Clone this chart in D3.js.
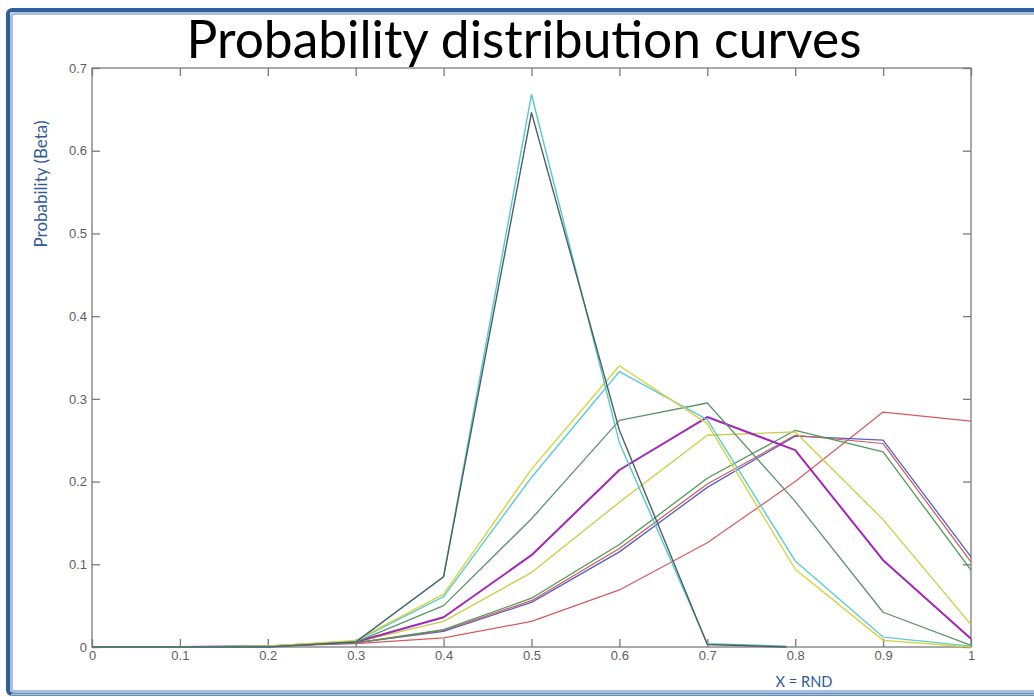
<!DOCTYPE html>
<html>
<head>
<meta charset="utf-8">
<script src="https://cdn.jsdelivr.net/npm/d3@7"></script>
<style>
  html, body { margin: 0; padding: 0; background: #ffffff; }
  svg { display: block; }
</style>
</head>
<body>
<svg id="chart" width="1034" height="697"></svg>
<script>
// Beta-distribution probability curves sampled at X = RND
const xTicks = [0, 0.1, 0.2, 0.3, 0.4, 0.5, 0.6, 0.7, 0.8, 0.9, 1];
const yTicks = [0, 0.1, 0.2, 0.3, 0.4, 0.5, 0.6, 0.7];
const xTickLabels = ["0", "0.1", "0.2", "0.3", "0.4", "0.5", "0.6", "0.7", "0.8", "0.9", "1"];
const yTickLabels = ["0", "0.1", "0.2", "0.3", "0.4", "0.5", "0.6", "0.7"];

const xGrid = [0, 0.1, 0.2, 0.3, 0.4, 0.5, 0.6, 0.7, 0.8, 0.9, 1];
const xGridNarrow = [0, 0.1, 0.2, 0.3, 0.4, 0.5, 0.6, 0.7, 0.79];

const seriesNames = ["red2", "blue", "red", "green2", "yellow2", "purple", "green", "cyan2", "yellow", "cyan", "dark"];
const seriesColors = ["#d9595c", "#5660cc", "#cf5a5a", "#4f9a58", "#cccc44", "#a326b8", "#5e9468", "#5ccbd6", "#d6d43e", "#55c8cf", "#4f5f60"];
const seriesWidths = [1.2, 1.3, 1.2, 1.3, 1.3, 2.0, 1.3, 1.4, 1.4, 1.4, 1.4];

const red2    = [0, 0, 0.001, 0.004, 0.011, 0.031, 0.069, 0.126, 0.200, 0.284, 0.273];
const blue    = [0, 0, 0.001, 0.005, 0.019, 0.054, 0.115, 0.193, 0.255, 0.250, 0.109];
const red     = [0, 0, 0.001, 0.005, 0.020, 0.056, 0.119, 0.197, 0.256, 0.246, 0.103];
const green2  = [0, 0, 0.001, 0.005, 0.021, 0.059, 0.124, 0.204, 0.262, 0.236, 0.093];
const yellow2 = [0, 0, 0.001, 0.006, 0.031, 0.090, 0.175, 0.256, 0.260, 0.154, 0.027];
const purple  = [0, 0, 0.001, 0.006, 0.036, 0.111, 0.214, 0.278, 0.238, 0.105, 0.010];
const green   = [0, 0, 0.001, 0.006, 0.050, 0.155, 0.274, 0.295, 0.176, 0.042, 0.002];
const cyan2   = [0, 0, 0.001, 0.007, 0.061, 0.205, 0.333, 0.275, 0.104, 0.012, 0.001];
const yellow  = [0, 0, 0.001, 0.008, 0.064, 0.215, 0.340, 0.270, 0.094, 0.008, 0.000];
const cyan    = [0, 0, 0.000, 0.006, 0.085, 0.668, 0.247, 0.004, 0.001];
const dark    = [0, 0, 0.000, 0.006, 0.085, 0.646, 0.262, 0.003, 0.000];

const seriesValues = [red2, blue, red, green2, yellow2, purple, green, cyan2, yellow, cyan, dark];

const svg = d3.select("#chart");
const W = 1034, H = 697;
const margin = { left: 92, right: 63, top: 68, bottom: 50 };
const x = d3.scaleLinear().domain([0, 1]).range([margin.left, W - margin.right]);
const y = d3.scaleLinear().domain([0, 0.7]).range([H - margin.bottom, margin.top]);

// fit a text element to a given width by scaling its font size
function fitWidth(sel, base, width) {
  const w = sel.node().getComputedTextLength();
  sel.attr("font-size", base * width / w);
}

// slide frame
svg.append("rect").attr("x", 0).attr("y", 0).attr("width", W).attr("height", H).attr("fill", "#ffffff");
svg.append("rect")
  .attr("x", 8).attr("y", 10).attr("width", W + 20).attr("height", 684).attr("rx", 4)
  .attr("fill", "none").attr("stroke", "#2f5f97").attr("stroke-width", 4);
svg.append("rect")
  .attr("x", 11.5).attr("y", 13.5).attr("width", W + 20).attr("height", 678).attr("rx", 3)
  .attr("fill", "none").attr("stroke", "#a9bfdb").attr("stroke-width", 3);
svg.append("line")
  .attr("x1", 11).attr("x2", W).attr("y1", 694.5).attr("y2", 694.5)
  .attr("stroke", "#a9bfdb").attr("stroke-width", 2);

// title
const title = svg.append("text")
  .attr("x", 524).attr("y", 58)
  .attr("text-anchor", "middle")
  .attr("font-family", "Lato, 'Open Sans', sans-serif")
  .attr("font-size", 48)
  .attr("fill", "#000")
  .text("Probability distribution curves");
fitWidth(title, 48, 675);

const plot = svg.append("g");

// axes box
plot.append("rect")
  .attr("x", x(0)).attr("y", y(0.7))
  .attr("width", x(1) - x(0)).attr("height", y(0) - y(0.7))
  .attr("fill", "#fff").attr("stroke", "#7a7a7a").attr("stroke-width", 1.3);

const tickLen = 8;
const axisStyle = g => {
  g.select(".domain").remove();
  g.selectAll(".tick line").attr("stroke", "#7a7a7a").attr("stroke-width", 1.3);
  g.selectAll(".tick text")
    .attr("fill", "#5e5e5e")
    .attr("font-family", "'Liberation Sans', Arial, sans-serif")
    .attr("font-size", 13);
};

plot.append("g")
  .attr("transform", `translate(0,${y(0)})`)
  .call(d3.axisBottom(x).tickValues(xTicks).tickFormat((d, i) => xTickLabels[i]).tickSizeInner(-tickLen).tickSizeOuter(0).tickPadding(4))
  .call(axisStyle);
plot.append("g")
  .attr("transform", `translate(0,${y(0.7)})`)
  .call(d3.axisTop(x).tickValues(xTicks).tickFormat("").tickSizeInner(-tickLen).tickSizeOuter(0))
  .call(axisStyle);
plot.append("g")
  .attr("transform", `translate(${x(0)},0)`)
  .call(d3.axisLeft(y).tickValues(yTicks).tickFormat((d, i) => yTickLabels[i]).tickSizeInner(-tickLen).tickSizeOuter(0).tickPadding(5))
  .call(axisStyle);
plot.append("g")
  .attr("transform", `translate(${x(1)},0)`)
  .call(d3.axisRight(y).tickValues(yTicks).tickFormat("").tickSizeInner(-tickLen).tickSizeOuter(0))
  .call(axisStyle);

// curves
const line = d3.line().x(d => x(d[0])).y(d => y(d[1]));
seriesValues.forEach((vals, i) => {
  const xs = vals.length === xGrid.length ? xGrid : xGridNarrow;
  plot.append("path")
    .datum(vals.map((v, j) => [xs[j], v]))
    .attr("class", "curve " + seriesNames[i])
    .attr("fill", "none")
    .attr("stroke", seriesColors[i])
    .attr("stroke-width", seriesWidths[i])
    .attr("stroke-linejoin", "round")
    .attr("d", line);
});

// axis titles
const yTitle = svg.append("text")
  .attr("transform", `translate(47,184) rotate(-90)`)
  .attr("text-anchor", "middle")
  .attr("font-family", "Lato, 'Open Sans', sans-serif")
  .attr("font-size", 14)
  .attr("fill", "#2e5b98")
  .text("Probability (Beta)");
fitWidth(yTitle, 14, 127);
const xTitle = svg.append("text")
  .attr("x", 804).attr("y", 687)
  .attr("text-anchor", "middle")
  .attr("font-family", "Lato, 'Open Sans', sans-serif")
  .attr("font-size", 14)
  .attr("fill", "#2e5b98")
  .text("X = RND");
fitWidth(xTitle, 14, 57);
</script>
</body>
</html>
